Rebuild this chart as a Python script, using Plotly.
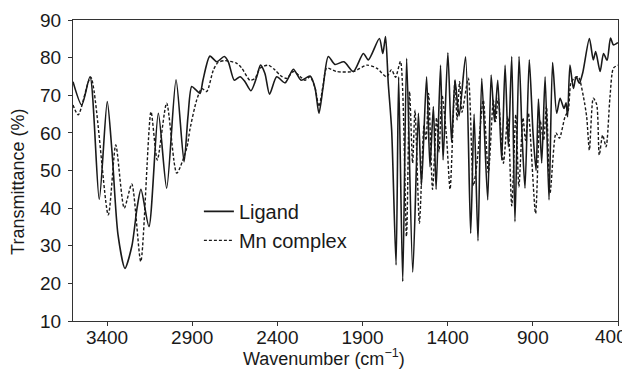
import plotly.graph_objects as go

# Wavenumber (cm-1) and transmittance (%)
ligand_wn = [3600, 3549, 3500, 3446, 3399, 3371, 3336, 3295, 3254, 3224, 3201, 3154, 3099, 3050, 2995,
             2948, 2925, 2903, 2878, 2854, 2837, 2796, 2756, 2712, 2688, 2653, 2619, 2590, 2555, 2521,
             2499, 2473, 2446, 2404, 2355, 2306, 2261, 2208, 2179, 2156, 2132, 2101, 2062, 2009, 1954,
             1895, 1866, 1801, 1781, 1765, 1749, 1729, 1703, 1688, 1664, 1641, 1605, 1572, 1554, 1524,
             1504, 1484, 1468, 1442, 1427, 1399, 1377, 1357, 1333, 1295, 1265, 1245, 1222, 1200, 1165,
             1145, 1125, 1106, 1083, 1063, 1044, 1024, 1005, 981, 962, 946, 921, 899, 881, 867,
             848, 828, 805, 784, 760, 740, 717, 705, 696, 682, 662, 646, 627, 607, 568,
             545, 531, 505, 485, 464, 444, 427, 407, 400]
ligand_t = [73.6, 67.4, 74.9, 42.3, 68.3, 55, 33, 24, 30, 40, 45, 35.1, 65.2, 45.3, 74.1,
            52.3, 64.3, 72.3, 71.4, 70.5, 74, 80.4, 78.9, 80.3, 78.9, 74, 74.9, 73.6, 71.2, 74.9,
            78, 75.8, 70.3, 74.9, 73.3, 76.9, 74, 75.1, 72, 65.2, 72, 80.3, 78.2, 78.9, 76.3,
            81.1, 79.4, 85.1, 81.1, 85.6, 73.2, 60.8, 24.9, 74.9, 20.5, 79.8, 23, 65.2, 46, 74.9,
            51, 67, 45, 78, 52.8, 81.3, 57.5, 74, 64.5, 80.2, 33.3, 65, 31.3, 74.5, 42.2,
            75.4, 63, 74, 52.8, 78, 56.3, 80.3, 36.4, 80.3, 58, 45.3, 79.4, 60, 50, 69,
            52, 74.9, 42.2, 78.7, 65.2, 69.2, 66.5, 68, 64.3, 78, 71.8, 74.9, 73.2, 76, 85.1,
            79.4, 81.6, 76.3, 81.1, 79.3, 85.2, 83.4, 83.8, 84]

mn_wn = [3600, 3569, 3496, 3393, 3349, 3299, 3255, 3202, 3142, 3105, 3050, 2991, 2932, 2913, 2874,
         2844, 2815, 2776, 2749, 2707, 2639, 2609, 2561, 2531, 2502, 2453, 2414, 2375, 2345, 2306,
         2267, 2238, 2208, 2179, 2156, 2132, 2110, 2052, 1954, 1875, 1817, 1759, 1730, 1706, 1677,
         1642, 1624, 1606, 1592, 1566, 1539, 1527, 1512, 1489, 1465, 1451, 1433, 1407, 1386, 1357,
         1345, 1330, 1316, 1279, 1249, 1228, 1191, 1161, 1132, 1119, 1103, 1073, 1047, 1024, 1000,
         982, 958, 943, 926, 884, 858, 837, 820, 799, 764, 744, 711, 692, 677, 658,
         633, 603, 584, 568, 545, 525, 510, 490, 470, 447, 427, 400]
mn_t = [67.4, 64.8, 74.8, 38.2, 56.8, 40, 46.4, 25.8, 65.6, 52.8, 67.9, 49.3, 56, 61, 68.7,
        71.8, 71, 76.7, 78.7, 79.2, 78.5, 77.2, 74, 74.5, 77.2, 78, 76.7, 75, 74.5, 76.3,
        75, 74, 74.9, 72, 67, 72.5, 77.2, 76.3, 76.3, 78, 77.2, 74.9, 76.8, 74.8, 79,
        32.5, 71, 52, 66, 36, 62, 58, 70.5, 45, 64, 55, 70, 59, 45, 74,
        63.5, 73.6, 65.5, 74.5, 46, 52, 68.7, 49.3, 68.7, 63, 69.2, 51.9, 64.3, 40.6, 64.8,
        45.7, 64, 58, 65.2, 38.6, 63.4, 58, 67, 44, 60, 58.6, 64.3, 66, 73.2, 74.5,
        74.9, 69.6, 64.3, 55.4, 69.2, 67.5, 54.1, 59.4, 56.3, 69.6, 77.2, 78]

x_ticks = [3400, 2900, 2400, 1900, 1400, 900, 400]
x_ticktext = ["3400", "2900", "2400", "1900", "1400", "900", ""]  # "400" is placed below as an annotation
y_ticks = [10, 20, 30, 40, 50, 60, 70, 80, 90]

FONT = "Liberation Sans, Arial, sans-serif"
INK = "#1a1a1a"

fig = go.Figure()
fig.add_trace(go.Scatter(x=ligand_wn, y=ligand_t, name="Ligand", mode="lines",
                         line=dict(color=INK, width=1.6, shape="spline", smoothing=0.7)))
fig.add_trace(go.Scatter(x=mn_wn, y=mn_t, name="Mn complex", mode="lines",
                         line=dict(color=INK, width=1.4, dash="3px,2px", shape="spline", smoothing=0.7)))

axis_common = dict(showline=True, linecolor="#333", linewidth=1.3, mirror=True, automargin=False,
                   ticks="outside", ticklen=4, tickcolor="#333", showgrid=False, zeroline=False,
                   ticklabeloverflow="allow",
                   tickfont=dict(family=FONT, size=19, color=INK))

# the page body adds an 8 px offset, so the figure is drawn 8 px smaller
fig.update_layout(
    width=622, height=364,
    margin=dict(l=65, r=12, t=12, b=51),
    paper_bgcolor="white", plot_bgcolor="white",
    font=dict(family=FONT, size=18, color=INK),
    xaxis=dict(range=[3600, 400], tickvals=x_ticks, ticktext=x_ticktext,
               ticklabelstandoff=-5, **axis_common),
    yaxis=dict(range=[10, 90], tickvals=y_ticks, ticklabelstandoff=3, **axis_common),
    legend=dict(x=0.231, y=0.429, xanchor="left", yanchor="top", bgcolor="rgba(0,0,0,0)",
                font=dict(family=FONT, size=20, color=INK), itemwidth=30, tracegroupgap=0),
    showlegend=True,
    annotations=[
        dict(text=str(x_ticks[-1]), xref="x", yref="paper", x=x_ticks[-1], y=-0.053,
             xanchor="right", yanchor="middle", xshift=11, showarrow=False,
             font=dict(family=FONT, size=19, color=INK)),
        dict(text="Wavenumber (cm<sup>−1</sup>)", xref="paper", yref="paper", x=0.46, y=-0.12,
             xanchor="center", yanchor="middle", showarrow=False,
             font=dict(family=FONT, size=18, color=INK)),
        dict(text="Transmittance (%)", xref="paper", yref="paper", x=-0.101, y=0.462,
             xanchor="center", yanchor="middle", textangle=-90, showarrow=False,
             font=dict(family=FONT, size=18, color=INK)),
    ],
)

fig.write_html("out.html")
